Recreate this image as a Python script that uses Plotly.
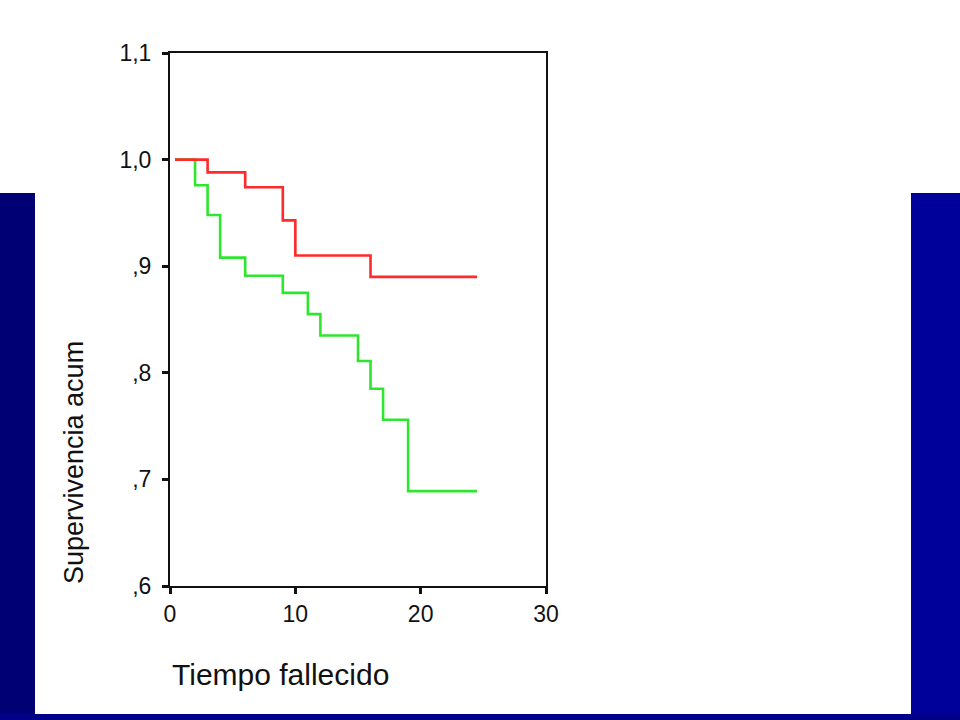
import plotly.graph_objects as go

# Kaplan-Meier style survival curves
red_time = [0.4, 3, 6, 9, 10, 16, 24.5]
red_surv = [1.0, 0.988, 0.974, 0.943, 0.910, 0.890, 0.890]

green_time = [0.4, 2, 3, 4, 6, 9, 11, 12, 15, 16, 17, 19, 24.5]
green_surv = [1.0, 0.976, 0.948, 0.908, 0.891, 0.875, 0.855, 0.835, 0.811, 0.785, 0.756, 0.689, 0.689]

x_ticks = [0, 10, 20, 30]
y_ticks = [0.6, 0.7, 0.8, 0.9, 1.0, 1.1]
y_ticklabels = [",6", ",7", ",8", ",9", "1,0", "1,1"]

x_title = "Tiempo fallecido"
y_title = "Supervivencia acum"

W, H = 960, 720
FONT = "Liberation Sans, Arial, sans-serif"

fig = go.Figure()
fig.add_trace(go.Scatter(x=green_time, y=green_surv, mode="lines",
                         line=dict(shape="hv", color="#2ee62e", width=2.6),
                         showlegend=False, hoverinfo="skip"))
fig.add_trace(go.Scatter(x=red_time, y=red_surv, mode="lines",
                         line=dict(shape="hv", color="#ff2a2a", width=2.6),
                         showlegend=False, hoverinfo="skip"))

def px(x):
    return x / W

def py(y):
    return (H - y) / H

# slide background: blue side strips and bottom strip
shapes = [
    dict(type="rect", xref="paper", yref="paper", x0=0, x1=px(35), y0=0, y1=py(193),
         fillcolor="#000074", line=dict(width=0), layer="below"),
    dict(type="rect", xref="paper", yref="paper", x0=px(911), x1=1, y0=0, y1=py(193),
         fillcolor="#00009a", line=dict(width=0), layer="below"),
    dict(type="rect", xref="paper", yref="paper", x0=0, x1=1, y0=0, y1=py(714),
         fillcolor="#000088", line=dict(width=0), layer="below"),
]

fig.update_layout(
    width=W, height=H, autosize=False,
    margin=dict(l=0, r=0, t=0, b=0, pad=0),
    paper_bgcolor="white", plot_bgcolor="white",
    font=dict(family=FONT, color="#111111"),
    shapes=shapes,
    xaxis=dict(domain=[px(170), px(546)], range=[0, 30], tickvals=x_ticks,
               automargin=False,
               showgrid=False, zeroline=False, showline=True, mirror=True,
               linecolor="#111111", linewidth=2, ticks="outside", ticklen=6,
               tickwidth=3, tickcolor="#111111",
               tickfont=dict(size=23, family=FONT, color="#111111")),
    yaxis=dict(domain=[py(586), py(53)], range=[0.6, 1.1], tickvals=y_ticks,
               ticktext=y_ticklabels, automargin=False,
               showgrid=False, zeroline=False, showline=True, mirror=True,
               linecolor="#111111", linewidth=2, ticks="outside", ticklen=6,
               tickwidth=3, tickcolor="#111111", ticklabelstandoff=6,
               tickfont=dict(size=23, family=FONT, color="#111111")),
    annotations=[
        dict(text=x_title, xref="paper", yref="paper", x=px(170), y=py(674),
             xanchor="left", yanchor="middle", showarrow=False,
             font=dict(size=30, family=FONT, color="#111111")),
        dict(text=y_title, xref="paper", yref="paper", x=px(74), y=py(463),
             xanchor="center", yanchor="middle", showarrow=False, textangle=-90,
             font=dict(size=27, family=FONT, color="#111111")),
    ],
)

fig.write_html(
    "out.html",
    config={"displayModeBar": False},
    post_script="document.body.style.margin='0';document.body.style.overflow='hidden';",
)
